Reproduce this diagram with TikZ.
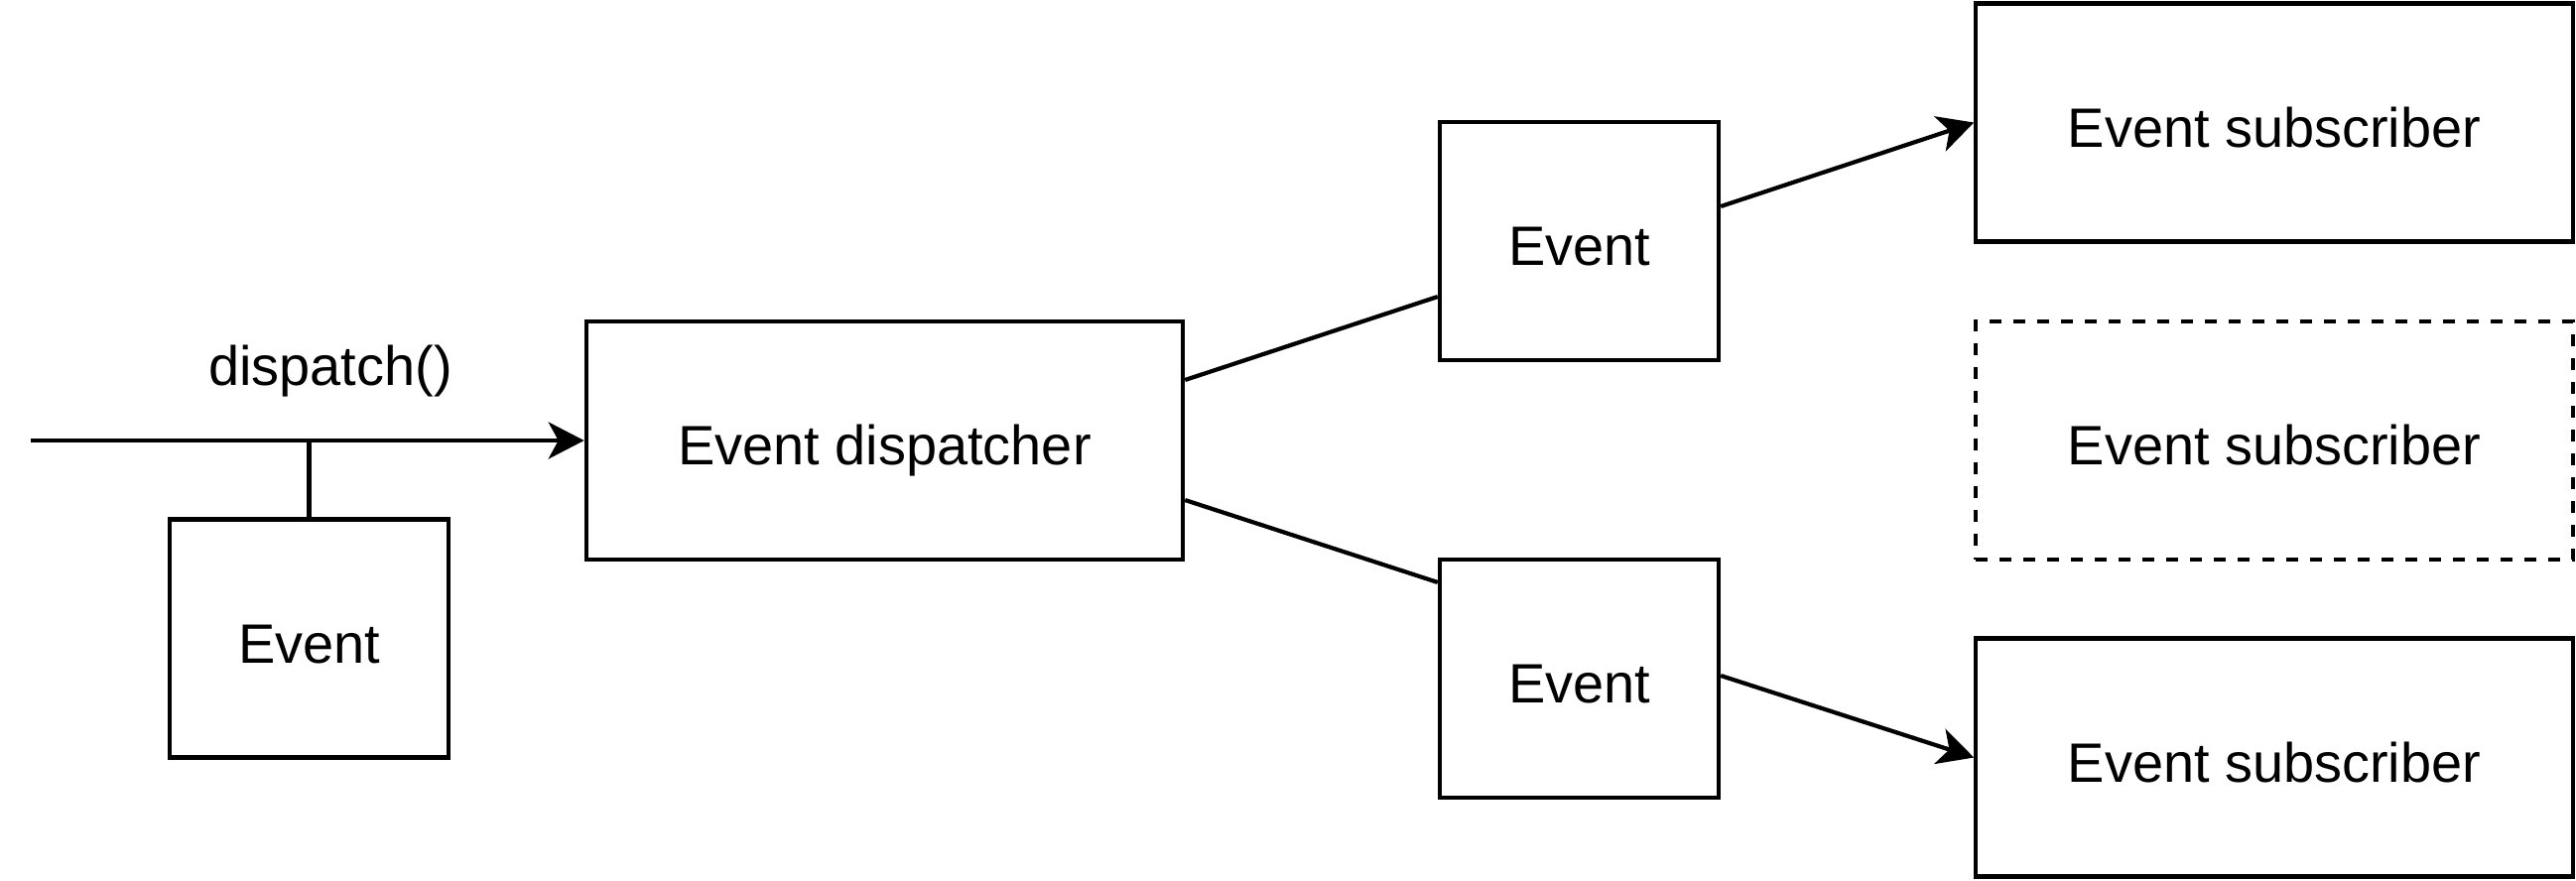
\documentclass[tikz,border=0pt]{standalone}
\usepackage{fontspec}
\setmainfont{Liberation Sans}
\usetikzlibrary{arrows.meta}
\begin{document}
\begin{tikzpicture}[x=0.01cm,y=-0.01cm,
  box/.style={draw, line width=1.2pt, minimum width=6.01cm, minimum height=2.40cm,
    inner sep=0pt, text height=0.49cm, text depth=0pt,
    font=\fontsize{15.9}{19}\selectfont},
  sbox/.style={box, minimum width=2.81cm},
  conn/.style={line width=1.2pt},
  arr/.style={conn, -{Stealth[length=0.36cm, width=0.37cm, inset=0.1cm]}},
  dashbox/.style={box, dash pattern=on 0.12cm off 0.12cm}]
\useasboundingbox (0,0) rectangle (2596,887);
\node[sbox] (ev0) at (311.5,643.5) {Event};
\node[box] (disp) at (891.5,444) {Event dispatcher};
\node[sbox] (evt) at (1591.5,243) {Event};
\node[sbox] (evb) at (1591.5,684) {Event};
\node[box] (s1) at (2292,123.5) {Event subscriber};
\node[dashbox] (s2) at (2292,444) {Event subscriber};
\node[box] (s3) at (2292,763.5) {Event subscriber};
\node[anchor=base, inner sep=0pt, font=\fontsize{15.9}{19}\selectfont] (lbl) at (333,388) {dispatch()};
\coordinate (start) at (31,444);
\draw[arr] (start) -- (disp.west);
\draw[conn] (ev0.north) -- (ev0.north |- disp.west);
\draw[conn] ([yshift=0.61cm]disp.east) -- ([yshift=-0.56cm]evt.west);
\draw[conn] ([yshift=-0.60cm]disp.east) -- ([yshift=0.97cm]evb.west);
\draw[arr] ([yshift=0.35cm]evt.east) -- (s1.west);
\draw[arr] ([yshift=0.03cm]evb.east) -- (s3.west);
\end{tikzpicture}
\end{document}
